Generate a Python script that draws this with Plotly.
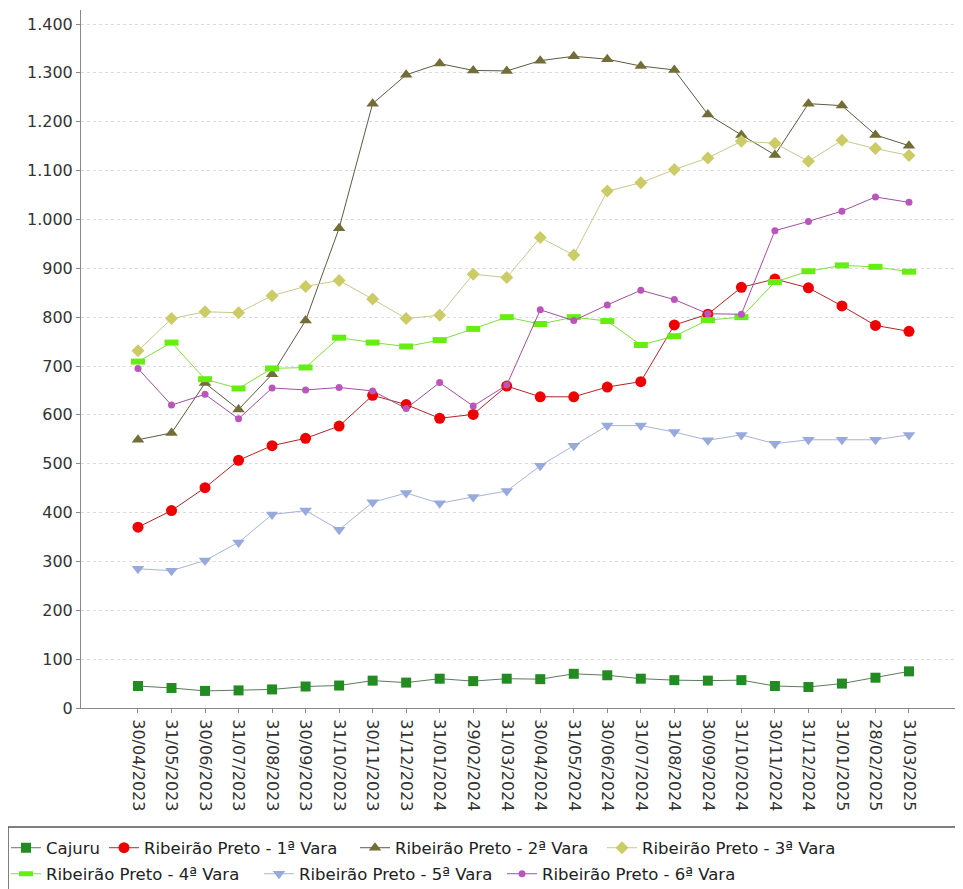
import plotly.graph_objects as go

dates = ["30/04/2023", "31/05/2023", "30/06/2023", "31/07/2023", "31/08/2023", "30/09/2023",
         "31/10/2023", "30/11/2023", "31/12/2023", "31/01/2024", "29/02/2024", "31/03/2024",
         "30/04/2024", "31/05/2024", "30/06/2024", "31/07/2024", "31/08/2024", "30/09/2024",
         "31/10/2024", "30/11/2024", "31/12/2024", "31/01/2025", "28/02/2025", "31/03/2025"]

cajuru = [45, 41, 35, 36, 38, 44, 46, 56, 52, 60, 55, 60, 59, 70, 67, 60, 57, 56, 57, 45, 43, 50, 62, 75]
vara1 = [370, 404, 451, 507, 537, 552, 577, 640, 621, 593, 601, 659, 637, 637, 657, 668, 784, 806, 861, 878, 860, 823, 783, 771]
vara2 = [549, 563, 665, 611, 683, 793, 982, 1237, 1296, 1319, 1305, 1304, 1325, 1334, 1328, 1314, 1306, 1215, 1173, 1132, 1237, 1233, 1173, 1151]
vara3 = [731, 797, 811, 809, 844, 863, 875, 837, 797, 804, 888, 881, 963, 927, 1058, 1075, 1102, 1126, 1160, 1156, 1119, 1162, 1145, 1131]
vara4 = [709, 748, 673, 654, 695, 697, 758, 748, 740, 753, 776, 800, 786, 800, 792, 743, 761, 794, 800, 872, 894, 906, 903, 893]
vara5 = [285, 281, 302, 339, 396, 404, 365, 421, 440, 419, 432, 444, 496, 537, 578, 578, 565, 548, 559, 541, 549, 549, 549, 559]
vara6 = [695, 620, 642, 592, 655, 651, 656, 649, 613, 666, 618, 661, 815, 793, 825, 855, 836, 807, 806, 977, 996, 1017, 1046, 1035]

names = ["Cajuru", "Ribeirão Preto - 1ª Vara", "Ribeirão Preto - 2ª Vara", "Ribeirão Preto - 3ª Vara",
         "Ribeirão Preto - 4ª Vara", "Ribeirão Preto - 5ª Vara", "Ribeirão Preto - 6ª Vara"]
series = [cajuru, vara1, vara2, vara3, vara4, vara5, vara6]

marker_colors = ["#228B22", "#EE0000", "#736E37", "#CCCC66", "#66EE11", "#98AADC", "#BB55BB"]
line_colors = ["#5E7A5E", "#B02525", "#5E5A40", "#C8C890", "#7FDF3F", "#A8B4D8", "#A050A0"]
symbols = ["square", "circle", "triangle-up", "diamond", "line-ew", "triangle-down", "circle"]
sizes = [10, 11, 11, 10, 10, 11, 7]

# figure geometry (figure is drawn 8px inside the page because of the body margin)
W, H = 963, 889
ML, MT = 73, 2
PLOT_BOTTOM = 700
PW = W - ML
PH = PLOT_BOTTOM - MT

# legend entries: left edge (figure px) and row centre (figure px)
leg_left = [-2, 96, 347, 594, -2, 251, 494]
leg_row = [840, 840, 840, 840, 866, 866, 866]

fig = go.Figure()
layout_legends = {}
for i, (nm, ys) in enumerate(zip(names, series)):
    mk = dict(symbol=symbols[i], size=sizes[i], color=marker_colors[i], line=dict(width=0))
    if symbols[i] == "line-ew":
        mk["line"] = dict(width=6, color=marker_colors[i])
    key = "legend" if i == 0 else "legend%d" % (i + 1)
    fig.add_trace(go.Scatter(
        x=dates, y=ys, name=nm, mode="lines+markers",
        line=dict(color=line_colors[i], width=1),
        marker=mk, legend=key,
    ))
    layout_legends[key] = dict(
        orientation="h", x=(leg_left[i] - ML) / PW, xanchor="left",
        y=(PLOT_BOTTOM - leg_row[i]) / PH, yanchor="middle",
        font=dict(size=16.5, family="DejaVu Sans", color="#222222"),
        bgcolor="rgba(0,0,0,0)", borderwidth=0)

fig.update_layout(
    width=W, height=H,
    margin=dict(l=ML, r=0, t=MT, b=H - PLOT_BOTTOM, autoexpand=False),
    paper_bgcolor="white", plot_bgcolor="white",
    separators=",.",
    font=dict(family="DejaVu Sans", color="#333333"),
    xaxis=dict(type="category", range=[-1.70, 24.85], tickangle=90,
               tickfont=dict(size=16, color="#333333"), ticklabelstandoff=3,
               showgrid=False, showline=True, linecolor="#888888", linewidth=1,
               ticks="outside", ticklen=4, tickcolor="#888888", zeroline=False),
    yaxis=dict(range=[0, 1428.7], tickvals=[0, 100, 200, 300, 400, 500, 600, 700, 800, 900,
                                            1000, 1100, 1200, 1300, 1400],
               tickformat=",d", tickfont=dict(size=16, color="#333333"),
               showgrid=True, gridcolor="#dcdcdc", griddash="dot", gridwidth=1,
               showline=True, linecolor="#888888", linewidth=1,
               ticks="outside", ticklen=4, tickcolor="#888888", zeroline=False),
    showlegend=True,
    **layout_legends,
)

fig.add_shape(type="rect", xref="paper", yref="paper",
              x0=(0 - ML) / PW, x1=(990 - ML) / PW,
              y0=(PLOT_BOTTOM - 819) / PH, y1=(PLOT_BOTTOM - 900) / PH,
              line=dict(color="#555555", width=1.5), fillcolor="rgba(0,0,0,0)", layer="below")

fig.write_html("out.html")
